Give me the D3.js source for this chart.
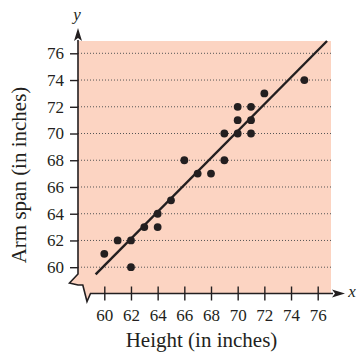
<!DOCTYPE html>
<html><head><meta charset="utf-8">
<script src="https://cdn.jsdelivr.net/npm/d3@7"></script>
<style>body{margin:0;background:#fff}svg{display:block}</style>
</head><body>
<script>
const heights  = [60,61,62,62,63,64,64,65,66,67,68,69,69,70,70,70,71,71,71,72,75];
const armSpans = [61,62,62,60,63,64,63,65,68,67,67,70,68,72,71,70,72,71,70,73,74];
const xTicks = [60,62,64,66,68,70,72,74,76];
const yTicks = [60,62,64,66,68,70,72,74,76];
const fitX = [59.35, 76.7];
const fitY = [59.47, 76.92];
const xTitle = "Height (in inches)";
const yTitle = "Arm span (in inches)";

(function () {
const W = 357, H = 354;
const svg = d3.select("body").append("svg").attr("width", W).attr("height", H);
const x = d3.scaleLinear().domain([60, 76]).range([104.3, 317.7]);
const y = d3.scaleLinear().domain([60, 76]).range([267.2, 53.3]);
const ax = 78, ay = 293.5, pr = 331, pt = 41;
const ink = "#231f20";
const font = "'Liberation Serif','Times New Roman',serif";

// background with break
svg.append("path")
  .attr("d", `M${ax},${pt} H${pr} V${ay} H90.5 L87,301.5 L82.8,285 L78,285 L69.5,283 L${ax},274 Z`)
  .attr("fill", "#fcd4c2");

// dotted gridlines
svg.append("g").selectAll("line").data(yTicks).join("line")
  .attr("x1", ax).attr("x2", pr)
  .attr("y1", d => y(d)).attr("y2", d => y(d))
  .attr("stroke", "#555").attr("stroke-width", 1).attr("stroke-dasharray", "1,2");

// axes lines with break
svg.append("path")
  .attr("d", `M${ax},40 L${ax},274 L69.5,283 L78,285 L82.8,285 L87,301.5 L90.5,${ay} L333,${ay}`)
  .attr("fill", "none").attr("stroke", ink).attr("stroke-width", 1.6).attr("stroke-linejoin", "miter");

// arrowheads
svg.append("path").attr("d", `M${ax},28 L${ax-4},41 L${ax},38 L${ax+4},41 Z`).attr("fill", ink);
svg.append("path").attr("d", `M345,${ay} L332,${ay-4} L335,${ay} L332,${ay+4} Z`).attr("fill", ink);

// y ticks
const yAxis = d3.axisLeft(y).tickValues(yTicks).tickSize(8).tickPadding(6);
const gy = svg.append("g").attr("transform", `translate(${ax},0)`).call(yAxis);
gy.select(".domain").remove();
gy.selectAll("line").attr("stroke", ink).attr("stroke-width", 1.4);
gy.selectAll("text").attr("font-family", font).attr("font-size", 17).attr("fill", ink);

// x ticks (crossing axis)
const xAxis = d3.axisBottom(x).tickValues(xTicks).tickSize(7).tickPadding(8);
const gx = svg.append("g").attr("transform", `translate(0,${ay})`).call(xAxis);
gx.select(".domain").remove();
gx.selectAll("line").attr("y1", -7).attr("stroke", ink).attr("stroke-width", 1.4);
gx.selectAll("text").attr("font-family", font).attr("font-size", 17).attr("fill", ink);

// fit line
svg.append("line")
  .attr("x1", x(fitX[0])).attr("y1", y(fitY[0]))
  .attr("x2", x(fitX[1])).attr("y2", y(fitY[1]))
  .attr("stroke", ink).attr("stroke-width", 2.4);

// points
svg.append("g").selectAll("circle").data(heights.map((h, i) => [h, armSpans[i]])).join("circle")
  .attr("cx", d => x(d[0])).attr("cy", d => y(d[1])).attr("r", 3.9).attr("fill", ink);

// axis letters
svg.append("text").attr("x", 77).attr("y", 20).attr("text-anchor", "middle")
  .attr("font-family", font).attr("font-style", "italic").attr("font-size", 17).attr("fill", ink).text("y");
svg.append("text").attr("x", 352).attr("y", 297).attr("text-anchor", "middle")
  .attr("font-family", font).attr("font-style", "italic").attr("font-size", 17).attr("fill", ink).text("x");

// titles
svg.append("text").attr("x", 201.5).attr("y", 347).attr("text-anchor", "middle")
  .attr("font-family", font).attr("font-size", 21).attr("fill", ink).text(xTitle);
svg.append("text").attr("transform", "translate(26,175) rotate(-90)").attr("text-anchor", "middle")
  .attr("font-family", font).attr("font-size", 21).attr("fill", ink).text(yTitle);
})();
</script>
</body></html>
